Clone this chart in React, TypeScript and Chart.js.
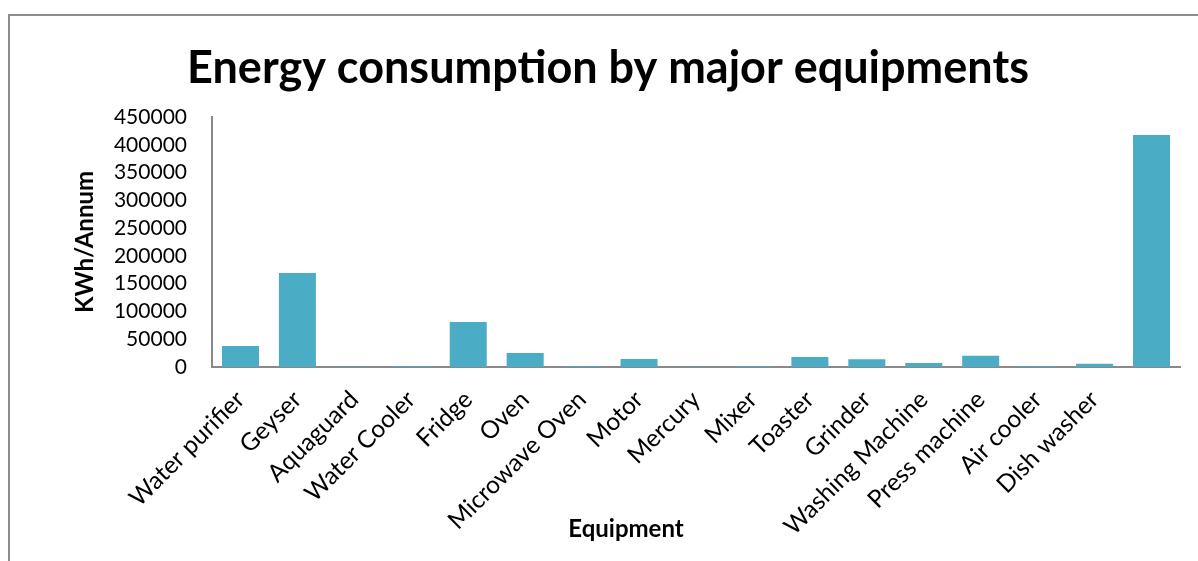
import { useEffect, useRef } from "react";
import { Chart, registerables } from "chart.js";

Chart.register(...registerables);

const chartTitle = "Energy consumption by major equipments";
const xAxisTitle = "Equipment";
const yAxisTitle = "KWh/Annum";

const categories = [
  "Water purifier",
  "Geyser",
  "Aquaguard",
  "Water Cooler",
  "Fridge",
  "Oven",
  "Microwave Oven",
  "Motor",
  "Mercury",
  "Mixer",
  "Toaster",
  "Grinder",
  "Washing Machine",
  "Press machine",
  "Air cooler",
  "Dish washer",
  "",
];

const consumption = [
  38000, 169000, 300, 1500, 81000, 25000, 1500, 14500, 300, 1500, 18000, 14000,
  7200, 20300, 1500, 6000, 417500,
];

const yMin = 0;
const yMax = 450000;
const yStep = 50000;

const FONT = "Lato";

// Draws the x-axis title centred under the whole chart (as in the source),
// rather than under the plot area only.
const xTitlePlugin = {
  id: "xTitle",
  afterDraw(chart: Chart) {
    const { ctx, width, chartArea } = chart;
    ctx.save();
    ctx.font = `bold 24px ${FONT}`;
    ctx.fillStyle = "#000";
    ctx.textAlign = "center";
    ctx.textBaseline = "alphabetic";
    ctx.fillText(xAxisTitle, width / 2 + 27, chartArea.bottom + 170);
    ctx.restore();
  },
};

export default function App() {
  const ref = useRef<HTMLCanvasElement>(null);

  useEffect(() => {
    if (!ref.current) return;
    const chart = new Chart(ref.current, {
      type: "bar",
      data: {
        labels: categories,
        datasets: [
          {
            data: consumption,
            backgroundColor: "#4BACC6",
            categoryPercentage: 0.65,
            barPercentage: 1,
          },
        ],
      },
      plugins: [xTitlePlugin],
      options: {
        animation: false,
        responsive: false,
        layout: { padding: { left: 36, right: 18, top: 40, bottom: 0 } },
        plugins: {
          legend: { display: false },
          tooltip: { enabled: false },
          title: {
            display: true,
            text: chartTitle,
            color: "#000",
            font: { family: FONT, size: 45, weight: "bold" },
            padding: { top: 1, bottom: 22 },
          },
        },
        scales: {
          x: {
            afterFit: (scale) => {
              scale.height = 194;
            },
            grid: { display: false, drawTicks: false },
            border: { color: "#898989", width: 2 },
            ticks: {
              autoSkip: false,
              maxRotation: 45,
              minRotation: 45,
              padding: 18,
              color: "#000",
              font: { family: FONT, size: 24.5 },
            },
            title: { display: false },
          },
          y: {
            afterFit: (scale) => {
              scale.width = 176;
            },
            min: yMin,
            max: yMax,
            grid: { display: false, drawTicks: false },
            border: { color: "#898989", width: 2 },
            ticks: {
              stepSize: yStep,
              autoSkip: false,
              padding: 25,
              color: "#000",
              font: { family: FONT, size: 21 },
              callback: (v) => String(v),
            },
            title: {
              display: true,
              text: yAxisTitle,
              color: "#000",
              font: { family: FONT, size: 24, weight: "bold" },
              padding: { top: 35, bottom: 0 },
            },
          },
        },
      },
    });
    return () => chart.destroy();
  }, []);

  return (
    <div
      style={{
        position: "fixed",
        left: 0,
        top: 0,
        width: 1198,
        height: 561,
        overflow: "hidden",
        background: "#fff",
      }}
    >
      <div
        style={{
          position: "absolute",
          left: 8,
          top: 14,
          width: 1400,
          height: 800,
          borderTop: "2px solid #8c8c8c",
          borderLeft: "2px solid #8c8c8c",
        }}
      />
      <canvas
        ref={ref}
        width={1198}
        height={561}
        style={{ position: "absolute", left: 0, top: 0 }}
      />
    </div>
  );
}
